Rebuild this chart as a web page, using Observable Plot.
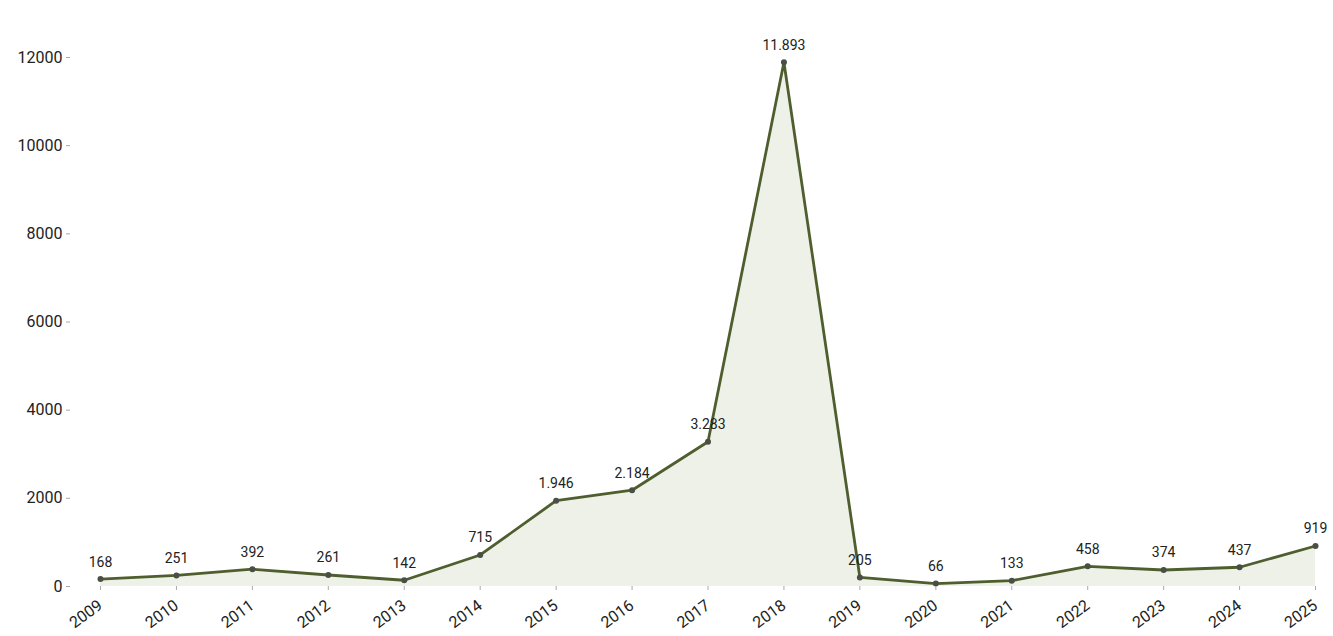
<!DOCTYPE html>
<html>
<head>
<meta charset="utf-8">
<script src="https://cdn.jsdelivr.net/npm/d3@7"></script>
<script src="https://cdn.jsdelivr.net/npm/@observablehq/plot@0.6"></script>
<style>
  html, body { margin: 0; padding: 0; background: #fff; }
  #chart svg { display: block; font-family: Roboto, "Noto Sans", sans-serif; }
</style>
</head>
<body>
<div id="chart"></div>
<script>
const years = [2009, 2010, 2011, 2012, 2013, 2014, 2015, 2016, 2017, 2018, 2019, 2020, 2021, 2022, 2023, 2024, 2025];
const counts = [168, 251, 392, 261, 142, 715, 1946, 2184, 3283, 11893, 205, 66, 133, 458, 374, 437, 919];
const yTicks = [0, 2000, 4000, 6000, 8000, 10000, 12000];

const data = years.map((y, i) => ({year: y, value: counts[i]}));
const deFormat = d3.formatLocale({decimal: ",", thousands: ".", grouping: [3], currency: ["", "€"]}).format(",");

const chart = Plot.plot({
  width: 1333,
  height: 636,
  marginLeft: 70,
  marginRight: 18,
  marginTop: 57,
  marginBottom: 50,
  style: {fontFamily: "Roboto, 'Noto Sans', sans-serif", color: "#333"},
  x: {domain: [2009, 2025], insetLeft: 30, insetRight: 0},
  y: {domain: [0, 12000]},
  marks: [
    Plot.gridY(yTicks, {stroke: "#ececec", strokeOpacity: 1, x1: 100, x2: 1315}),
    Plot.areaY(data, {x: "year", y: "value", fill: "#eef1e8", fillOpacity: 1}),
    Plot.lineY(data, {x: "year", y: "value", stroke: "#4e5e2e", strokeWidth: 2.8}),
    Plot.dot(data, {x: "year", y: "value", r: 3, fill: "#4a4f45"}),
    Plot.text(data, {x: "year", y: "value", text: d => deFormat(d.value), dy: -17, fontSize: 14, fill: "#222"}),
    Plot.axisY(yTicks, {tickSize: 4, tickPadding: 4, fontSize: 16, stroke: "#aaa", fill: "#222", label: null, tickFormat: d => String(d)}),
    Plot.axisX(years, {tickSize: 4, tickRotate: -36, fontSize: 16, stroke: "#aaa", fill: "#222", tickFormat: d => String(d), label: null, tickPadding: 13})
  ]
});
document.getElementById("chart").append(chart);
</script>
</body>
</html>
